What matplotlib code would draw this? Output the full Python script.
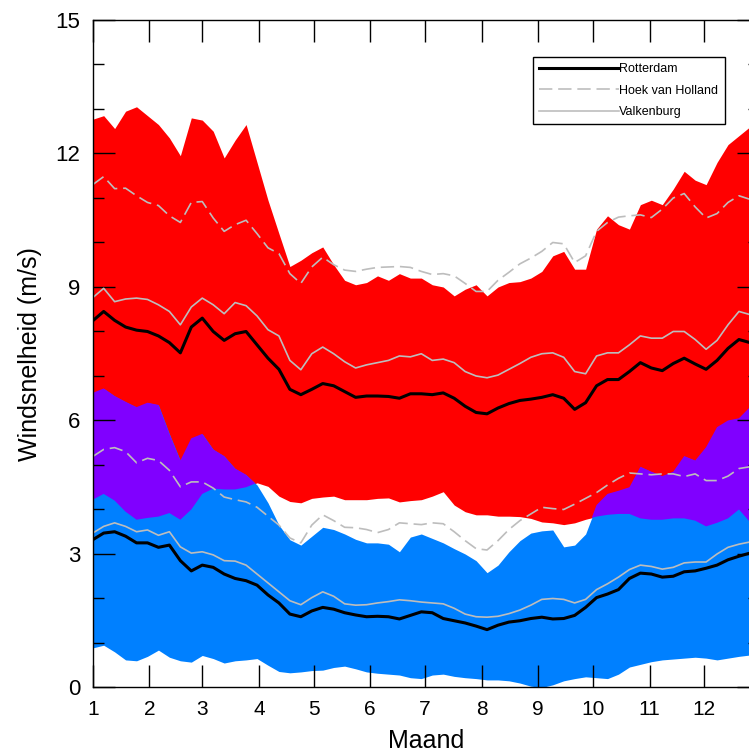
import numpy as np
import matplotlib

matplotlib.use("Agg")
import matplotlib.pyplot as plt
from matplotlib.ticker import MultipleLocator

plt.rcParams["font.family"] = ["Liberation Sans", "DejaVu Sans"]

# day of year (leap year), sampled every 6 days
days = np.arange(1, 362, 6)

# month start days -> tick labels 1..12
month_starts = [1, 32, 61, 92, 122, 153, 183, 214, 245, 275, 306, 336]
month_labels = [str(m) for m in range(1, 13)]

# upper band
red_hi = [12.77, 12.85, 12.56, 12.95, 13.05, 12.85, 12.65, 12.35, 11.95, 12.8,
          12.75, 12.5, 11.9, 12.3, 12.65, 11.8, 10.95, 10.2, 9.46, 9.6,
          9.77, 9.9, 9.5, 9.15, 9.05, 9.1, 9.25, 9.15, 9.3, 9.2,
          9.2, 9.05, 9.0, 8.8, 8.95, 9.05, 8.8, 9.0, 9.1, 9.12,
          9.2, 9.35, 9.7, 9.8, 9.4, 9.4, 10.3, 10.6, 10.4, 10.3,
          10.85, 10.95, 10.85, 11.2, 11.6, 11.4, 11.3, 11.8, 12.2, 12.4,
          12.6]
red_lo = [4.22, 4.35, 4.2, 3.95, 3.77, 3.81, 3.84, 3.92, 3.77, 4.0,
          4.35, 4.47, 4.45, 4.45, 4.5, 4.6, 4.52, 4.3, 4.18, 4.15,
          4.25, 4.28, 4.3, 4.22, 4.22, 4.22, 4.25, 4.26, 4.17, 4.2,
          4.22, 4.3, 4.4, 4.1, 3.95, 3.88, 3.88, 3.85, 3.85, 3.84,
          3.8, 3.72, 3.7, 3.66, 3.7, 3.78, 3.84, 3.88, 3.9, 3.9,
          3.8, 3.77, 3.77, 3.8, 3.8, 3.75, 3.62, 3.7, 3.8, 4.0,
          3.72]

# lower band
blue_hi = [6.62, 6.72, 6.55, 6.42, 6.3, 6.4, 6.35, 5.7, 5.1, 5.6,
           5.7, 5.35, 5.2, 4.92, 4.78, 4.55, 4.15, 3.65, 3.32, 3.2,
           3.4, 3.6, 3.55, 3.45, 3.33, 3.25, 3.25, 3.22, 3.05, 3.38,
           3.45, 3.35, 3.25, 3.12, 3.0, 2.85, 2.58, 2.75, 3.05, 3.3,
           3.47, 3.52, 3.54, 3.16, 3.2, 3.45, 4.1, 4.35, 4.42, 4.5,
           4.96, 4.85, 4.75, 4.85, 5.2, 5.1, 5.4, 5.85, 6.0, 6.05,
           6.3]
blue_lo = [0.89, 0.95, 0.8, 0.62, 0.6, 0.7, 0.84, 0.68, 0.6, 0.57,
           0.72, 0.65, 0.55, 0.6, 0.62, 0.65, 0.5, 0.36, 0.33, 0.35,
           0.38, 0.39, 0.45, 0.48, 0.42, 0.35, 0.32, 0.3, 0.28, 0.22,
           0.2, 0.28, 0.3, 0.25, 0.22, 0.2, 0.17, 0.17, 0.15, 0.1,
           0.03, 0.0, 0.06, 0.15, 0.2, 0.24, 0.22, 0.2, 0.3, 0.46,
           0.52, 0.58, 0.62, 0.64, 0.66, 0.68, 0.66, 0.62, 0.66, 0.7,
           0.73]

# station curves
rotterdam_hi = [8.24, 8.45, 8.25, 8.1, 8.03, 8.0, 7.9, 7.75, 7.52, 8.1,
                8.3, 8.0, 7.8, 7.95, 8.0, 7.7, 7.4, 7.15, 6.7, 6.58,
                6.7, 6.83, 6.78, 6.65, 6.52, 6.55, 6.55, 6.54, 6.5, 6.6,
                6.6, 6.58, 6.62, 6.5, 6.32, 6.18, 6.15, 6.28, 6.38, 6.45,
                6.48, 6.52, 6.58, 6.5, 6.25, 6.4, 6.78, 6.92, 6.92, 7.1,
                7.3, 7.18, 7.12, 7.28, 7.4, 7.27, 7.15, 7.35, 7.62, 7.82,
                7.75]
rotterdam_lo = [3.32, 3.47, 3.5, 3.4, 3.25, 3.25, 3.15, 3.2, 2.85, 2.62,
                2.75, 2.7, 2.55, 2.45, 2.4, 2.3, 2.08, 1.9, 1.65, 1.59,
                1.72, 1.8, 1.76, 1.68, 1.63, 1.59, 1.6, 1.59, 1.54, 1.62,
                1.7, 1.68, 1.55, 1.5, 1.45, 1.38, 1.3, 1.4, 1.47, 1.5,
                1.55, 1.58, 1.54, 1.55, 1.62, 1.8, 2.02, 2.1, 2.2, 2.45,
                2.57, 2.55, 2.48, 2.5, 2.6, 2.62, 2.68, 2.75, 2.87, 2.95,
                3.02]
hoek_hi = [11.3, 11.48, 11.21, 11.22, 11.05, 10.9, 10.83, 10.6, 10.45, 10.9,
           10.92, 10.55, 10.25, 10.4, 10.5, 10.2, 9.88, 9.75, 9.3, 9.08,
           9.45, 9.67, 9.5, 9.38, 9.35, 9.4, 9.44, 9.45, 9.46, 9.44,
           9.35, 9.28, 9.3, 9.25, 9.08, 8.9, 8.9, 9.15, 9.33, 9.52,
           9.65, 9.8, 10.0, 9.97, 9.55, 9.7, 10.25, 10.45, 10.57, 10.6,
           10.62, 10.56, 10.75, 11.0, 11.1, 10.8, 10.55, 10.65, 10.9, 11.05,
           10.97]
hoek_lo = [5.19, 5.35, 5.39, 5.3, 5.05, 5.15, 5.1, 4.88, 4.51, 4.62,
           4.62, 4.48, 4.28, 4.22, 4.17, 4.05, 3.85, 3.65, 3.36, 3.25,
           3.65, 3.88, 3.75, 3.6, 3.59, 3.55, 3.48, 3.55, 3.7, 3.68,
           3.66, 3.7, 3.68, 3.5, 3.3, 3.12, 3.09, 3.3, 3.55, 3.75,
           3.9, 4.05, 4.02, 4.0, 4.12, 4.25, 4.38, 4.55, 4.7, 4.82,
           4.8, 4.78, 4.8, 4.8, 4.74, 4.8, 4.65, 4.65, 4.75, 4.92,
           4.96]
valkenburg_hi = [8.76, 8.97, 8.67, 8.73, 8.75, 8.72, 8.6, 8.45, 8.15, 8.55,
                 8.75, 8.6, 8.4, 8.65, 8.58, 8.35, 8.04, 7.9, 7.35, 7.14,
                 7.5, 7.65, 7.5, 7.32, 7.18, 7.25, 7.3, 7.35, 7.45, 7.43,
                 7.5, 7.35, 7.38, 7.3, 7.1, 7.0, 6.96, 7.02, 7.15, 7.28,
                 7.42, 7.5, 7.52, 7.42, 7.1, 7.05, 7.45, 7.52, 7.52, 7.7,
                 7.9, 7.85, 7.85, 8.0, 8.0, 7.82, 7.6, 7.8, 8.15, 8.45,
                 8.38]
valkenburg_lo = [3.47, 3.62, 3.7, 3.62, 3.5, 3.54, 3.42, 3.5, 3.16, 3.02,
                 3.05, 2.98, 2.85, 2.84, 2.75, 2.55, 2.35, 2.15, 1.95, 1.86,
                 2.02, 2.15, 2.05, 1.88, 1.85, 1.86, 1.9, 1.93, 1.97, 1.95,
                 1.92, 1.9, 1.88, 1.78, 1.65, 1.59, 1.58, 1.6, 1.66, 1.74,
                 1.85, 1.98, 2.0, 1.98, 1.9, 1.98, 2.2, 2.33, 2.48, 2.65,
                 2.75, 2.72, 2.66, 2.7, 2.8, 2.82, 2.82, 3.0, 3.15, 3.22,
                 3.27]

RED = "#ff0000"
BLUE = "#0080ff"
PURPLE = "#8000ff"
GREY = "#bdbdbd"

fig = plt.figure(figsize=(7.49, 7.54), dpi=100)
ax = fig.add_axes([0.1238, 0.0882, 0.8896, 0.8853])

red_lo_a, red_hi_a = np.array(red_lo), np.array(red_hi)
blue_lo_a, blue_hi_a = np.array(blue_lo), np.array(blue_hi)

ax.fill_between(days, red_lo_a, red_hi_a, color=RED, lw=0)
ax.fill_between(days, blue_lo_a, blue_hi_a, color=BLUE, lw=0)
# overlap of the two bands
ov_lo = np.maximum(red_lo_a, blue_lo_a)
ov_hi = np.minimum(red_hi_a, blue_hi_a)
ax.fill_between(days, ov_lo, ov_hi, where=ov_hi > ov_lo, interpolate=True,
                color=PURPLE, lw=0)

ax.plot(days, hoek_hi, color=GREY, lw=1.2, dashes=(8, 3.5), label="Hoek van Holland")
ax.plot(days, hoek_lo, color=GREY, lw=1.2, dashes=(8, 3.5))
ax.plot(days, valkenburg_hi, color=GREY, lw=1.2, label="Valkenburg")
ax.plot(days, valkenburg_lo, color=GREY, lw=1.2)
ax.plot(days, rotterdam_hi, color="black", lw=2.2, label="Rotterdam")
ax.plot(days, rotterdam_lo, color="black", lw=2.2)

ax.set_xlim(1, 366)
ax.set_ylim(0, 15)
ax.set_xticks(month_starts)
ax.set_xticklabels(month_labels)
ax.yaxis.set_major_locator(MultipleLocator(3))
ax.yaxis.set_minor_locator(MultipleLocator(1))

ax.tick_params(axis="both", which="both", direction="in", top=True, right=True,
               width=1.0, color="black")
ax.tick_params(axis="y", which="major", length=15.8, labelsize=16, pad=9)
ax.tick_params(axis="y", which="minor", length=7.9)
ax.tick_params(axis="x", which="major", length=15.8, labelsize=15, pad=9)
for s in ax.spines.values():
    s.set_linewidth(1.0)

fig.text(30 / 749, 1 - 354 / 754, "Windsnelheid (m/s)", rotation=90,
         ha="center", va="center", fontsize=18)
fig.text(426 / 749, 1 - 741 / 754, "Maand", ha="center", va="center", fontsize=18)

handles, labels = ax.get_legend_handles_labels()
order = [2, 0, 1]
leg = ax.legend([handles[i] for i in order], [labels[i] for i in order],
                loc="upper left", bbox_to_anchor=(533 / 749, 1 - 57 / 754),
                bbox_transform=fig.transFigure, borderaxespad=0,
                fontsize=9, handlelength=6.4, handletextpad=0.0,
                labelspacing=0.75, borderpad=0.5, fancybox=False,
                framealpha=1, edgecolor="black")
leg.get_frame().set_linewidth(1.0)

fig.savefig("out.png", dpi=100)
